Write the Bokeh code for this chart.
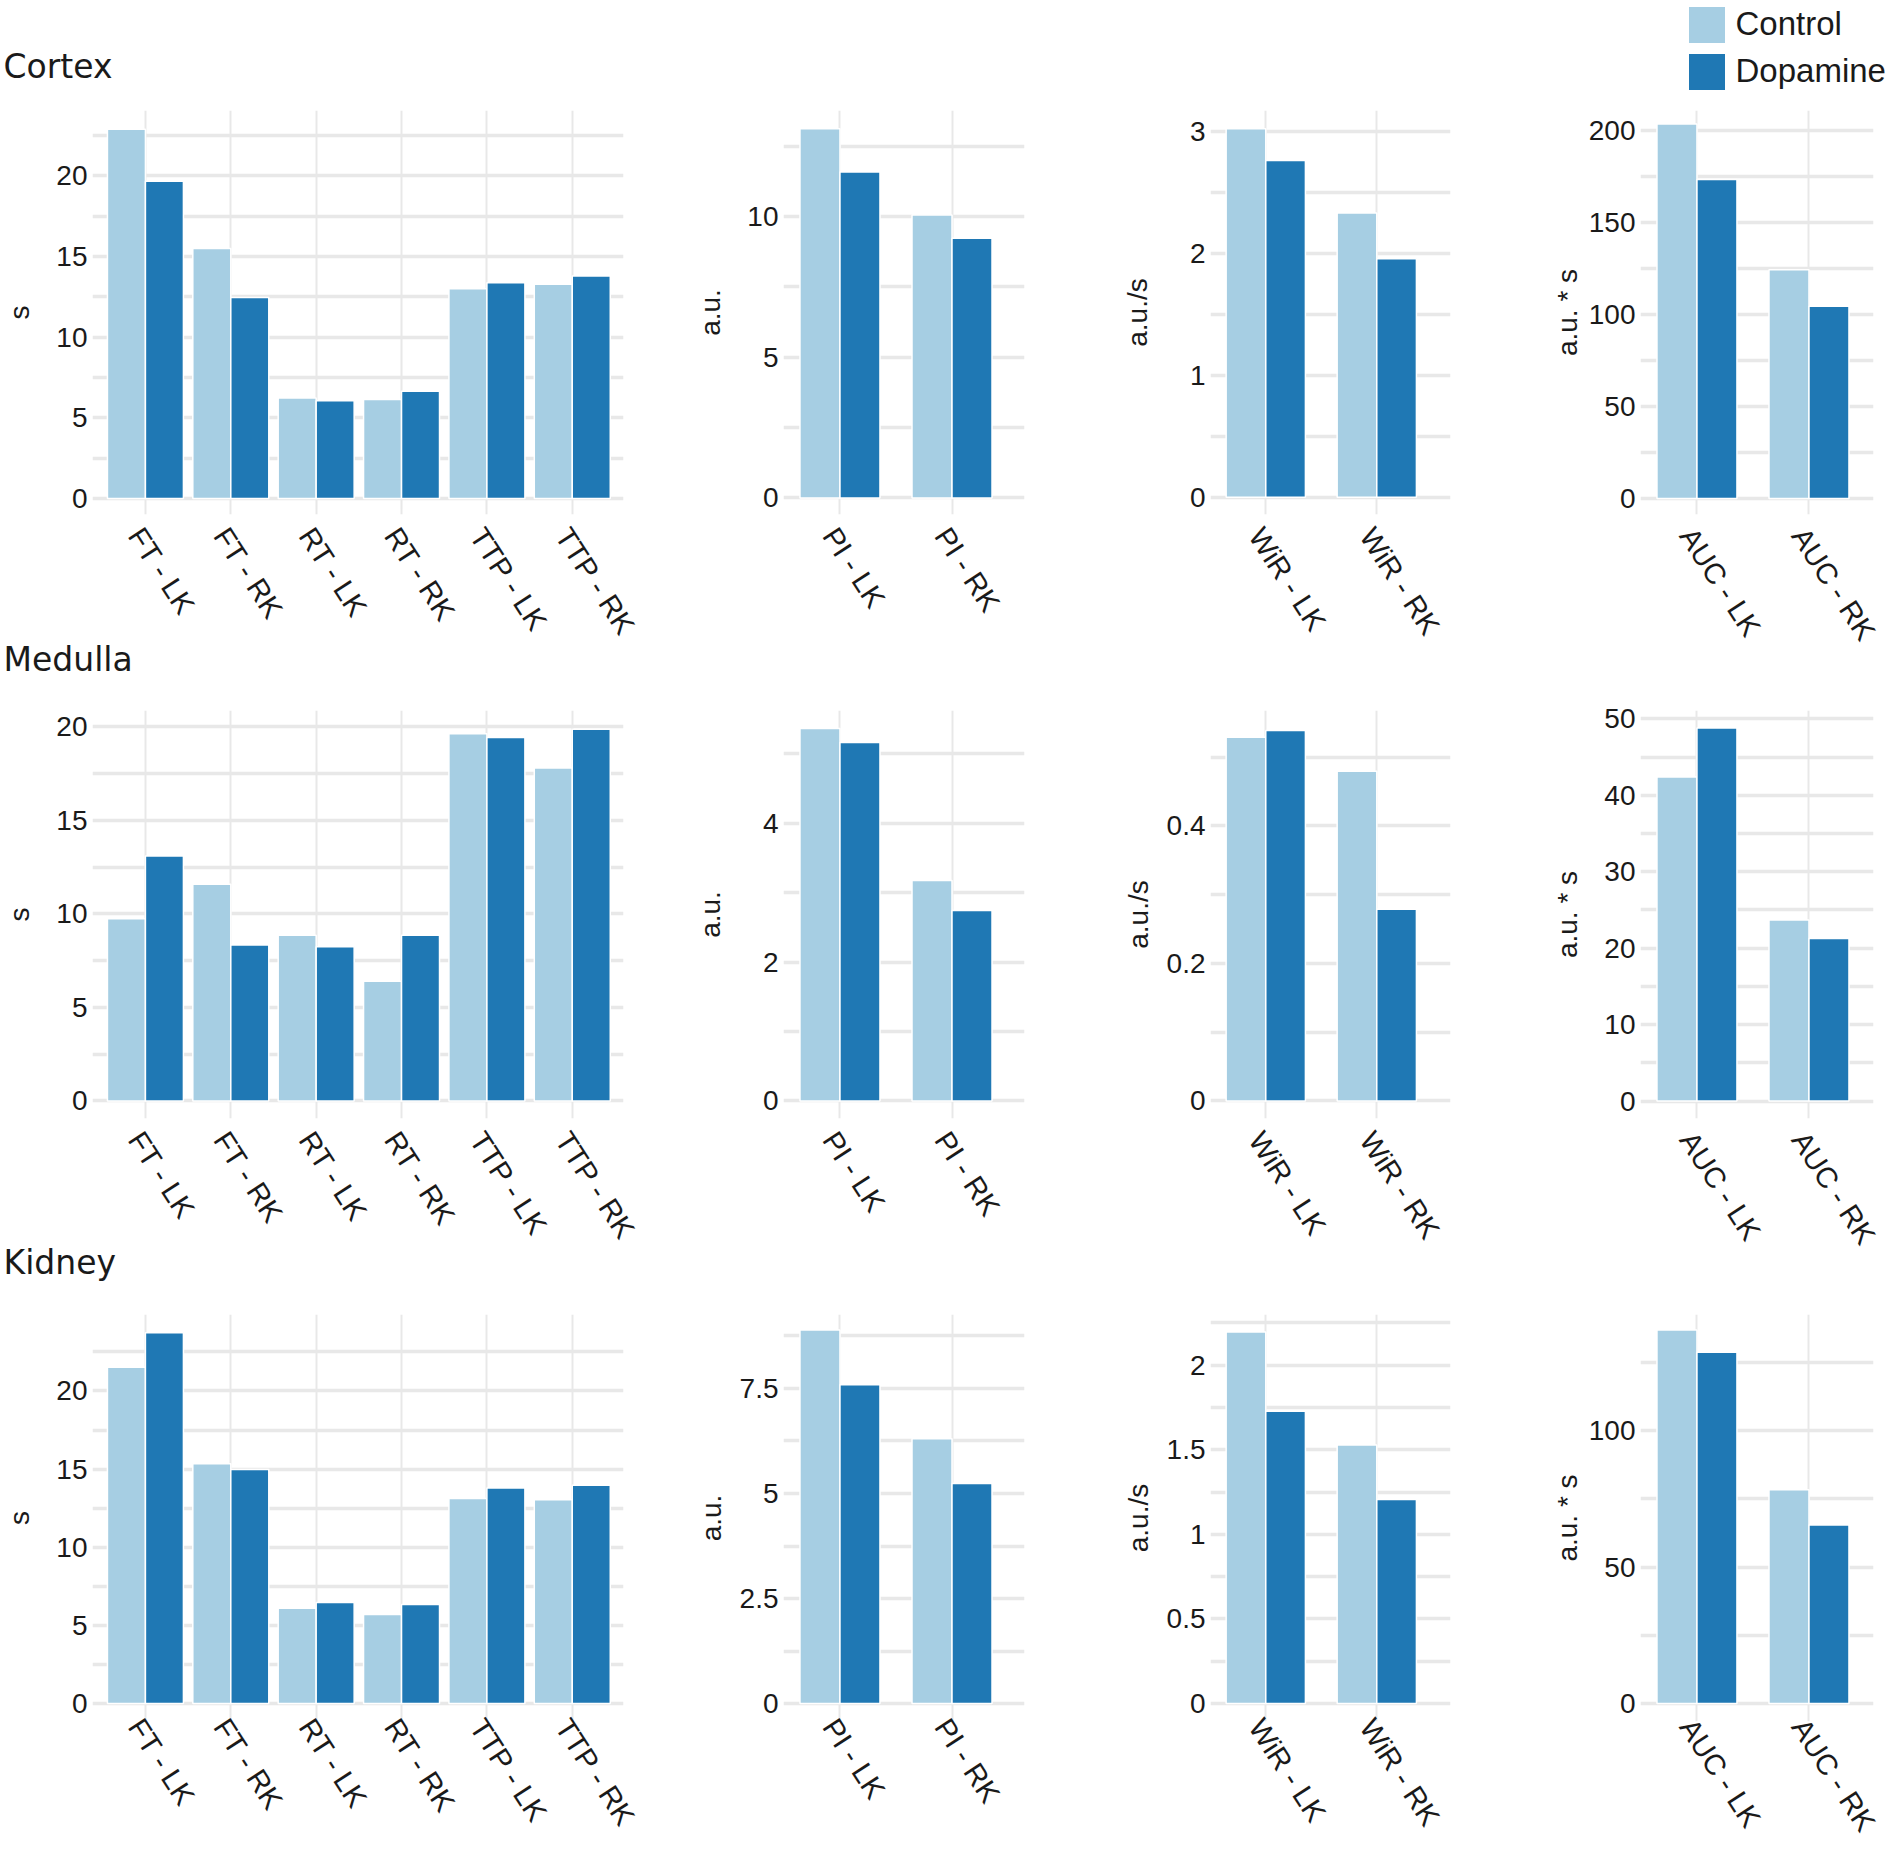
import math
from bokeh.plotting import figure
from bokeh.layouts import column, row
from bokeh.models import Range1d, FixedTicker, ColumnDataSource, Label, Legend, LegendItem
from bokeh.transform import dodge
from bokeh.embed import file_html
from bokeh.resources import INLINE

# ---------------- data ----------------
row_titles = ["Cortex", "Medulla", "Kidney"]
series_names = ["Control", "Dopamine"]
cats_time = ["FT - LK", "FT - RK", "RT - LK", "RT - RK", "TTP - LK", "TTP - RK"]
cats_pi = ["PI - LK", "PI - RK"]
cats_wir = ["WiR - LK", "WiR - RK"]
cats_auc = ["AUC - LK", "AUC - RK"]
units = ["s", "a.u.", "a.u./s", "a.u. * s"]

cortex_time_control = [22.9, 15.5, 6.23, 6.13, 13.0, 13.28]
cortex_time_dopamine = [19.67, 12.46, 6.05, 6.64, 13.38, 13.8]
cortex_pi_control = [13.12, 10.06]
cortex_pi_dopamine = [11.58, 9.23]
cortex_wir_control = [3.02, 2.33]
cortex_wir_dopamine = [2.76, 1.955]
cortex_auc_control = [203.6, 124.3]
cortex_auc_dopamine = [173.4, 104.5]

medulla_time_control = [9.75, 11.59, 8.86, 6.40, 19.64, 17.81]
medulla_time_dopamine = [13.1, 8.34, 8.25, 8.86, 19.43, 19.88]
medulla_pi_control = [5.36, 3.175]
medulla_pi_dopamine = [5.16, 2.74]
medulla_wir_control = [0.529, 0.4795]
medulla_wir_dopamine = [0.539, 0.279]
medulla_auc_control = [42.4, 23.7]
medulla_auc_dopamine = [48.8, 21.25]

kidney_time_control = [21.51, 15.34, 6.09, 5.70, 13.11, 13.04]
kidney_time_dopamine = [23.72, 14.98, 6.47, 6.34, 13.79, 13.96]
kidney_pi_control = [8.89, 6.30]
kidney_pi_dopamine = [7.59, 5.24]
kidney_wir_control = [2.197, 1.528]
kidney_wir_dopamine = [1.728, 1.207]
kidney_auc_control = [136.8, 78.3]
kidney_auc_dopamine = [128.7, 65.4]

# y tick values (major, minor) per row / column
cortex_ticks = [([0, 5, 10, 15, 20], [2.5, 7.5, 12.5, 17.5, 22.5]),
                ([0, 5, 10], [2.5, 7.5, 12.5]),
                ([0, 1, 2, 3], [0.5, 1.5, 2.5]),
                ([0, 50, 100, 150, 200], [25, 75, 125, 175])]
medulla_ticks = [([0, 5, 10, 15, 20], [2.5, 7.5, 12.5, 17.5]),
                 ([0, 2, 4], [1, 3, 5]),
                 ([0, 0.2, 0.4], [0.1, 0.3, 0.5]),
                 ([0, 10, 20, 30, 40, 50], [5, 15, 25, 35, 45])]
kidney_ticks = [([0, 5, 10, 15, 20], [2.5, 7.5, 12.5, 17.5, 22.5]),
                ([0, 2.5, 5, 7.5], [1.25, 3.75, 6.25, 8.75]),
                ([0, 0.5, 1, 1.5, 2], [0.25, 0.75, 1.25, 1.75, 2.25]),
                ([0, 50, 100], [25, 75, 125])]

# ---------------- layout / style ----------------
C_COLOR = "#a6cee3"
D_COLOR = "#1f78b4"
TXT = "#1a1a1a"
GRID = "#e8e8e8"
SANS = "Liberation Sans"

rows_data = [
    [(cats_time, cortex_time_control, cortex_time_dopamine),
     (cats_pi, cortex_pi_control, cortex_pi_dopamine),
     (cats_wir, cortex_wir_control, cortex_wir_dopamine),
     (cats_auc, cortex_auc_control, cortex_auc_dopamine)],
    [(cats_time, medulla_time_control, medulla_time_dopamine),
     (cats_pi, medulla_pi_control, medulla_pi_dopamine),
     (cats_wir, medulla_wir_control, medulla_wir_dopamine),
     (cats_auc, medulla_auc_control, medulla_auc_dopamine)],
    [(cats_time, kidney_time_control, kidney_time_dopamine),
     (cats_pi, kidney_pi_control, kidney_pi_dopamine),
     (cats_wir, kidney_wir_control, kidney_wir_dopamine),
     (cats_auc, kidney_auc_control, kidney_auc_dopamine)],
]
rows_ticks = [cortex_ticks, medulla_ticks, kidney_ticks]

y_ranges = [
    [(-1.0, 24.06), (-0.59, 13.77), (-0.142, 3.17), (-8.7, 210.9)],
    [(-0.936, 20.88), (-0.252, 5.62), (-0.0255, 0.568), (-2.29, 51.1)],
    [(-1.15, 24.89), (-0.427, 9.26), (-0.106, 2.30), (-6.58, 142.5)],
]
x_ranges = [(-0.62, 5.6), (-0.504, 1.647), (-0.498, 1.664), (-0.504, 1.576)]
bar_w = [0.445, 0.357, 0.357, 0.357]
PAGE_W = 1900
col_w = [690, 420, 430, 360]
col_bl = [92, 93, 100, 100]
col_br = [67, 86, 90, 27]
# (top border, frame height, bottom border, x-label standoff) per row
row_geom = [(14, 404, 144, 16), (20, 408, 144, 16), (20, 408, 126, 0)]
# header strips: (page top, page bottom, title y, top overlap)
headers = [(0, 96, 66, 0), (640, 690, 659, 18), (1244, 1294, 1262, 18)]

TICK_PX = 28
XLAB_PX = "29px"
YTITLE_PX = 28
XLAB_ANGLE = -math.radians(57)
XLAB_SHIFT_PX = 10
YTITLE_DIST = 70


def fmt(v):
    return "%g" % v


def label_width(s, px):
    return sum(0.278 if ch == "." else 0.556 for ch in s) * px


def header(ri):
    top, bottom, base, overlap = headers[ri]
    h = figure(width=PAGE_W, height=bottom - top, x_range=Range1d(0, PAGE_W),
               y_range=Range1d(bottom, top), toolbar_location=None,
               output_backend="svg", x_axis_location=None, y_axis_location=None,
               min_border=0, margin=(-overlap, 0, 0, 0))
    h.grid.visible = False
    h.outline_line_color = None
    h.background_fill_color = None
    h.border_fill_color = None
    h.add_layout(Label(x=3, y=base, text=row_titles[ri],
                       text_font="DejaVu Sans", text_font_size="33px",
                       text_color=TXT, text_baseline="alphabetic"))
    if ri == 0:
        # legend keys (their renderers sit outside the visible range)
        r1 = h.vbar(x=[-100], top=[bottom], bottom=bottom, width=1,
                    fill_color=C_COLOR, line_color=None)
        r2 = h.vbar(x=[-100], top=[bottom], bottom=bottom, width=1,
                    fill_color=D_COLOR, line_color=None)
        leg = Legend(items=[LegendItem(label=series_names[0], renderers=[r1]),
                            LegendItem(label=series_names[1], renderers=[r2])],
                     location=(1683.5, 2.5), glyph_width=45, glyph_height=45,
                     spacing=2, padding=0, margin=0, label_standoff=7,
                     label_text_font=SANS, label_text_font_size="33px",
                     label_text_color=TXT, border_line_color=None,
                     background_fill_alpha=0)
        h.add_layout(leg)
    return h


def panel(ri, ci):
    cats, ctrl, dop = rows_data[ri][ci]
    major, minor = rows_ticks[ri][ci]
    tb, fh, bb, xs = row_geom[ri]
    x0, x1 = x_ranges[ci]
    y0, y1 = y_ranges[ri][ci]
    p = figure(width=col_w[ci], height=tb + fh + bb,
               x_range=Range1d(x0, x1), y_range=Range1d(y0, y1),
               toolbar_location=None, output_backend="svg", min_border=0,
               min_border_left=col_bl[ci], min_border_right=col_br[ci],
               min_border_top=tb, min_border_bottom=bb)
    p.outline_line_color = None
    n = len(cats)
    src = ColumnDataSource(dict(x=list(range(n)), control=ctrl, dopamine=dop))
    bw = bar_w[ci]
    p.vbar(x=dodge("x", -bw / 2, range=p.x_range), top="control", bottom=0, width=bw,
           source=src, fill_color=C_COLOR, line_color="white", line_width=1.5)
    p.vbar(x=dodge("x", bw / 2, range=p.x_range), top="dopamine", bottom=0, width=bw,
           source=src, fill_color=D_COLOR, line_color="white", line_width=1.5)

    # category grid lines at the category centres; labels nudged a few px left
    p.xgrid.ticker = FixedTicker(ticks=list(range(n)))
    frame_w = col_w[ci] - col_bl[ci] - col_br[ci]
    shift = XLAB_SHIFT_PX * (x1 - x0) / frame_w
    lab_pos = [i - shift for i in range(n)]
    xa = p.xaxis[0]
    xa.ticker = FixedTicker(ticks=lab_pos)
    xa.major_label_overrides = {pos: c for pos, c in zip(lab_pos, cats)}
    xa.major_label_orientation = XLAB_ANGLE
    xa.major_label_text_font = SANS
    xa.major_label_text_font_size = XLAB_PX
    xa.major_label_text_color = TXT
    xa.major_label_standoff = xs
    xa.axis_line_color = None
    xa.major_tick_line_color = None
    xa.minor_tick_line_color = None
    xa.major_tick_out = 0
    xa.major_tick_in = 0
    xa.minor_tick_out = 0
    xa.minor_tick_in = 0

    yt = FixedTicker(ticks=major, minor_ticks=minor)
    ya = p.yaxis[0]
    ya.ticker = yt
    p.ygrid.ticker = yt
    ya.major_label_overrides = {t: fmt(t) for t in major}
    ya.major_label_text_font = SANS
    ya.major_label_text_font_size = "%dpx" % TICK_PX
    ya.major_label_text_color = TXT
    ya.major_label_standoff = 5
    ya.axis_line_color = None
    ya.major_tick_line_color = None
    ya.minor_tick_line_color = None
    ya.major_tick_out = 0
    ya.major_tick_in = 0
    ya.minor_tick_out = 0
    ya.minor_tick_in = 0
    ya.axis_label = units[ci]
    ya.axis_label_text_font = SANS
    ya.axis_label_text_font_size = "%dpx" % YTITLE_PX
    ya.axis_label_text_font_style = "normal"
    ya.axis_label_text_color = TXT
    maxw = max(label_width(fmt(t), TICK_PX) for t in major)
    ya.axis_label_standoff = max(0, int(round(YTITLE_DIST - 5 - maxw - 0.56 * YTITLE_PX)))

    p.ygrid.grid_line_color = GRID
    p.ygrid.grid_line_width = 3.5
    p.ygrid.minor_grid_line_color = GRID
    p.ygrid.minor_grid_line_width = 3.5
    p.xgrid.grid_line_color = GRID
    p.xgrid.grid_line_width = 2
    return p


children = []
for ri in range(3):
    children.append(header(ri))
    children.append(row(*[panel(ri, ci) for ci in range(4)]))

layout = column(*children)
open("out.html", "w").write(file_html(layout, INLINE))
